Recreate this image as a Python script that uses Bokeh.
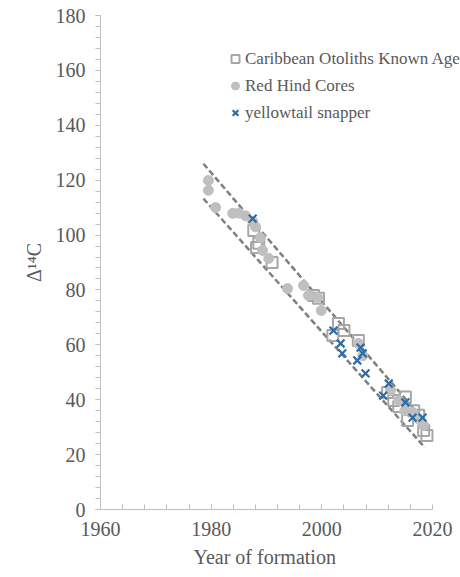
from bokeh.plotting import figure
from bokeh.models import Range1d, SingleIntervalTicker, Legend, LegendItem, Title
from bokeh.embed import file_html
from bokeh.resources import INLINE

# Caribbean Otoliths Known Age (open squares)
oto_year = [1987.7, 1988.6, 1988.2, 1991.0, 1998.5, 1999.4, 2002.0, 2003.0, 2004.0, 2006.6,
            2011.9, 2013.0, 2013.9, 2015.1, 2015.5, 2016.6, 2017.5, 2018.4, 2019.0]
oto_d14c = [101.7, 97.0, 95.5, 90.0, 78.0, 77.0, 63.4, 67.8, 65.2, 61.6,
            42.6, 39.7, 37.5, 41.0, 32.4, 36.0, 34.3, 28.8, 27.0]

# Red Hind Cores (grey circles)
rh_year = [1979.5, 1979.5, 1980.8, 1983.9, 1985.0, 1986.2, 1987.5, 1988.0, 1988.9, 1989.3,
           1990.4, 1993.8, 1996.7, 1997.6, 1999.2, 1999.9, 2006.6, 2007.4, 2012.4, 2013.9,
           2015.0, 2016.4, 2017.5, 2018.4]
rh_d14c = [119.9, 116.3, 110.0, 107.9, 108.0, 107.0, 105.0, 103.0, 99.0, 94.4,
           91.5, 80.5, 81.6, 78.0, 77.3, 72.5, 60.5, 56.0, 43.4, 39.7,
           36.0, 35.4, 33.0, 30.6]

# yellowtail snapper (blue x)
ys_year = [1987.5, 2002.1, 2003.4, 2003.7, 2007.0, 2007.4, 2006.4, 2007.9, 2012.1, 2011.1,
           2015.1, 2016.4, 2018.2]
ys_d14c = [106.0, 65.2, 60.5, 56.9, 59.0, 56.9, 54.3, 49.6, 45.9, 41.5,
           39.0, 33.5, 33.5]

# dashed envelope lines
upper_x = [1978.6, 2019.5]
upper_y = [126.0, 30.0]
lower_x = [1978.6, 2018.6]
lower_y = [113.3, 22.6]

FONT = "Liberation Serif"
TXT = "#595959"

# frame spans 100..460 px; axis drawn only over 1960..2020 (100..432 px)
p = figure(width=460, height=577, output_backend="svg", toolbar_location=None,
           x_range=Range1d(1960, 2025.06), y_range=Range1d(0, 180),
           min_border_left=100, min_border_right=0, min_border_top=15, min_border_bottom=68)
p.outline_line_color = None
p.xgrid.grid_line_color = None
p.ygrid.grid_line_color = None
p.background_fill_color = "white"
p.border_fill_color = "white"

p.line(upper_x, upper_y, line_color="#7f7f7f", line_width=2.5, line_dash="6 3")
p.line(lower_x, lower_y, line_color="#7f7f7f", line_width=2.5, line_dash="6 3")

r_sq = p.scatter(oto_year, oto_d14c, marker="square", size=11, fill_color=None,
                 line_color="#a6a6a6", line_width=2)
r_ci = p.scatter(rh_year, rh_d14c, marker="circle", size=10, fill_color="#bfbfbf",
                 line_color="#bfbfbf")
r_x = p.scatter(ys_year, ys_d14c, marker="x", size=11, line_color="#2e6ca4", line_width=2.2)

p.xaxis.ticker = SingleIntervalTicker(interval=20, num_minor_ticks=5)
p.yaxis.ticker = SingleIntervalTicker(interval=20, num_minor_ticks=5)
p.xaxis.bounds = (1960, 2020)

for ax in (p.xaxis[0], p.yaxis[0]):
    ax.axis_line_color = "#bfbfbf"
    ax.major_tick_line_color = "#bfbfbf"
    ax.minor_tick_line_color = "#bfbfbf"
    ax.major_label_text_font = FONT
    ax.major_label_text_font_size = "20px"
    ax.major_label_text_color = TXT
    ax.axis_label_text_font = FONT
    ax.axis_label_text_font_size = "20px"
    ax.axis_label_text_font_style = "normal"
    ax.axis_label_text_color = TXT

p.xaxis.major_tick_in = 5
p.xaxis.major_tick_out = 0
p.xaxis.minor_tick_in = 5
p.xaxis.minor_tick_out = 0
p.xaxis.major_label_standoff = 12

xtitle = Title(text="Year of formation", align="left", offset=93,
               text_font=FONT, text_font_size="20px", text_font_style="normal",
               text_color=TXT, standoff=10)
p.add_layout(xtitle, "below")

p.yaxis.major_tick_in = 0
p.yaxis.major_tick_out = 5
p.yaxis.minor_tick_in = 0
p.yaxis.minor_tick_out = 5
p.yaxis.major_label_standoff = 10
p.yaxis.axis_label = "Δ¹⁴C"
p.yaxis.axis_label_standoff = 8

legend = Legend(items=[
    LegendItem(label="Caribbean Otoliths Known Age", renderers=[r_sq]),
    LegendItem(label="Red Hind Cores", renderers=[r_ci]),
    LegendItem(label="yellowtail snapper", renderers=[r_x]),
], location=(125, 383))
legend.border_line_color = None
legend.background_fill_alpha = 0
legend.label_text_font = FONT
legend.label_text_font_size = "17px"
legend.label_text_color = TXT
legend.glyph_width = 20
legend.glyph_height = 27
legend.label_standoff = 0
legend.spacing = 0
legend.padding = 0
legend.margin = 0
p.add_layout(legend, "center")

open("out.html", "w").write(file_html(p, INLINE))
